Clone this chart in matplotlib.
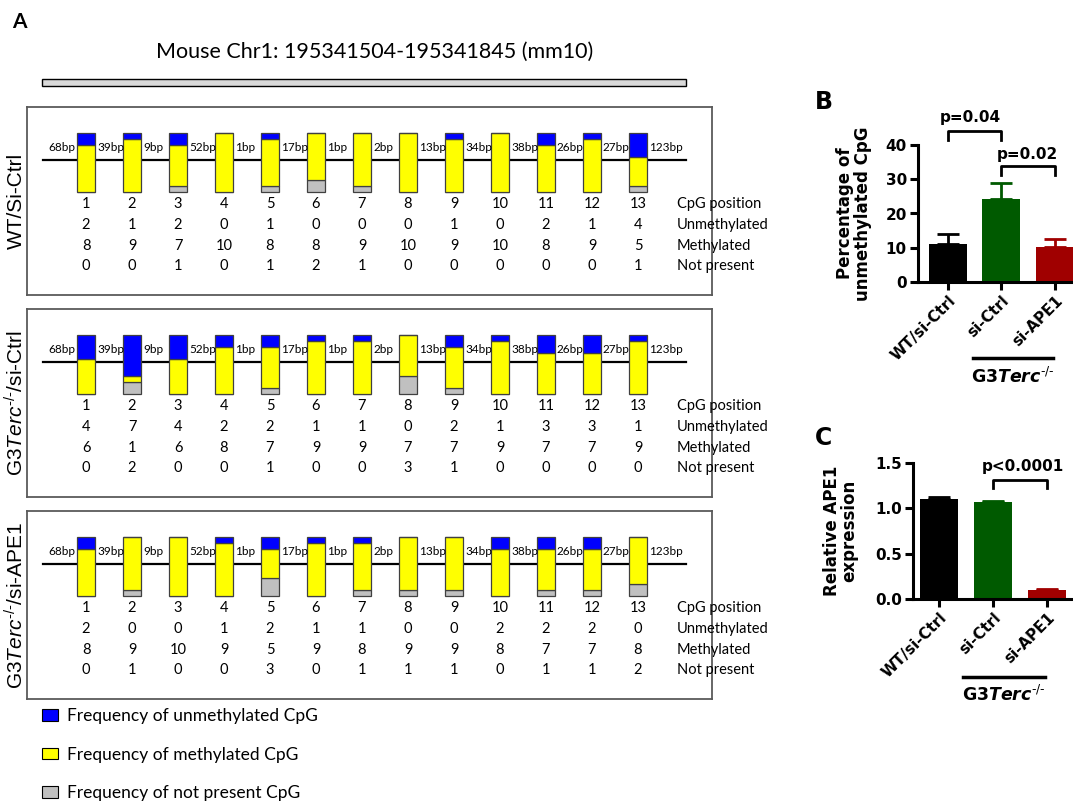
import numpy as np
import matplotlib.pyplot as plt
from matplotlib.patches import Patch, Rectangle

plt.rcParams['font.family'] = 'Liberation Sans'
plt.rcParams['mathtext.fontset'] = 'custom'
plt.rcParams['mathtext.rm'] = 'Liberation Sans'
plt.rcParams['mathtext.it'] = 'Liberation Sans:italic'
plt.rcParams['mathtext.bf'] = 'Liberation Sans:bold'
plt.rcParams['mathtext.bfit'] = 'Liberation Sans:italic:bold'

# ---- data, panel A (bisulfite sequencing, 10 clones per CpG)
cpg_pos = [1, 2, 3, 4, 5, 6, 7, 8, 9, 10, 11, 12, 13]
bp_gaps = [68, 39, 9, 52, 1, 17, 1, 2, 13, 34, 38, 26, 27, 123]
row_labels = ["CpG position", "Unmethylated", "Methylated", "Not present"]
sample_names = ["WT/Si-Ctrl", "G3$\\mathit{Terc}^{\u2010/\u2010}$/si-Ctrl",
                "G3$\\mathit{Terc}^{\u2010/\u2010}$/si-APE1"]

wt_unmeth = [2, 1, 2, 0, 1, 0, 0, 0, 1, 0, 2, 1, 4]
wt_meth = [8, 9, 7, 10, 8, 8, 9, 10, 9, 10, 8, 9, 5]
wt_np = [0, 0, 1, 0, 1, 2, 1, 0, 0, 0, 0, 0, 1]

ctrl_unmeth = [4, 7, 4, 2, 2, 1, 1, 0, 2, 1, 3, 3, 1]
ctrl_meth = [6, 1, 6, 8, 7, 9, 9, 7, 7, 9, 7, 7, 9]
ctrl_np = [0, 2, 0, 0, 1, 0, 0, 3, 1, 0, 0, 0, 0]

ape_unmeth = [2, 0, 0, 1, 2, 1, 1, 0, 0, 2, 2, 2, 0]
ape_meth = [8, 9, 10, 9, 5, 9, 8, 9, 9, 8, 7, 7, 8]
ape_np = [0, 1, 0, 0, 3, 0, 1, 1, 1, 0, 1, 1, 2]

legend_labels = ["Frequency of unmethylated CpG", "Frequency of methylated CpG",
                 "Frequency of not present CpG"]

# ---- data, panels B and C
groups = ["WT/si-Ctrl", "si-Ctrl", "si-APE1"]
pct_unmeth = [11.0, 24.2, 10.3]
pct_err = [3.0, 4.8, 2.4]
ape1_expr = [1.10, 1.07, 0.10]
ape1_err = [0.03, 0.01, 0.005]

W, H = 1073, 805
fig = plt.figure(figsize=(W / 100, H / 100), dpi=100)


def px_axes(left, top, right, bottom):
    return fig.add_axes([left / W, 1 - bottom / H, (right - left) / W, (bottom - top) / H])


blue, yellow, grey = '#0000ff', '#ffff00', '#c0c0c0'
fa = dict(family='Lato')
fb = dict(family='DejaVu Sans', fontweight='bold')

# ---- panel A
fig.text(12 / W, 1 - 22 / H, "A", fontsize=15, weight='bold', va='center', **fa)
fig.text(375 / W, 1 - 52 / H, "Mouse Chr1: 195341504-195341845 (mm10)", fontsize=15.5,
         ha='center', va='center', **fa)
fig.patches.append(Rectangle((42 / W, 1 - 86 / H), 644 / W, 7 / H, transform=fig.transFigure,
                             facecolor='#d9d9d9', edgecolor='black', lw=1))

sets = [(wt_unmeth, wt_meth, wt_np), (ctrl_unmeth, ctrl_meth, ctrl_np), (ape_unmeth, ape_meth, ape_np)]
row_y = [-2.0, -5.6, -9.15, -12.5]
x = np.array(cpg_pos)

for k, (unm, met, nps) in enumerate(sets):
    ax = px_axes(27, 107 + 202 * k, 712, 295 + 202 * k)
    ax.set_xlim(-0.283, 14.61)
    ax.set_ylim(-17.46, 14.4)
    ax.set_xticks([])
    ax.set_yticks([])
    for s in ax.spines.values():
        s.set_color('#5a5a5a')
        s.set_linewidth(1.3)
    ax.plot([0.065, 14.04], [5.4, 5.4], color='black', lw=1.6, zorder=1)
    ax.bar(x, nps, width=0.39, color=grey, edgecolor='#404040', lw=0.9, zorder=2)
    ax.bar(x, met, width=0.39, bottom=nps, color=yellow, edgecolor='#404040', lw=0.9, zorder=2)
    ax.bar(x, unm, width=0.39, bottom=np.add(nps, met), color=blue, edgecolor='#404040', lw=0.9, zorder=2)

    ax.text(x[0] - 0.24, 7.5, f"{bp_gaps[0]}bp", ha='right', va='center', fontsize=8.5, **fa)
    for i in range(len(x)):
        ax.text(x[i] + 0.24, 7.5, f"{bp_gaps[i + 1]}bp", ha='left', va='center', fontsize=8.5, **fa)

    for r, vals in enumerate([cpg_pos, unm, met, nps]):
        for i in range(len(x)):
            ax.text(x[i], row_y[r], str(vals[i]), ha='center', va='center', fontsize=10.5, **fa)
        ax.text(13.85, row_y[r], row_labels[r], ha='left', va='center', fontsize=10.5, **fa)

    fig.text(16 / W, 1 - (201 + 202 * k) / H, sample_names[k], rotation=90,
             ha='center', va='center', fontsize=15)

handles = [Patch(facecolor=c, edgecolor='black', lw=0.8) for c in (blue, yellow, grey)]
fig.legend(handles, legend_labels, loc='upper left', bbox_to_anchor=(42 / W, 1 - 708 / H),
           frameon=False, prop=dict(family='Lato', size=12.5), handlelength=0.9, handleheight=0.65,
           labelspacing=1.3, handletextpad=0.55, borderaxespad=0, borderpad=0)

# ---- panels B and C
bar_cols = ['#000000', '#005a00', '#a00000']


def style_bar_ax(ax):
    for s in ('top', 'right'):
        ax.spines[s].set_visible(False)
    for s in ('left', 'bottom'):
        ax.spines[s].set_linewidth(2.2)
    ax.tick_params(width=2.2, length=6, labelsize=11, pad=2)
    for lab in ax.get_yticklabels():
        lab.set_fontweight('bold')
        lab.set_family('DejaVu Sans')
    ax.set_xticks(range(3))
    ax.set_xticklabels(groups, rotation=45, ha='right', rotation_mode='anchor', fontsize=11, **fb)


def draw_bars(ax, vals, errs, width):
    xb = np.arange(3)
    ax.bar(xb, vals, width=width, color=bar_cols, zorder=2)
    for i in range(3):
        ax.errorbar(xb[i], vals[i], yerr=[[0], [errs[i]]], fmt='none', ecolor=bar_cols[i],
                    elinewidth=2, capsize=8, capthick=2, zorder=3)


def g3_label(ax, x0, x1, yl, yt):
    tr = ax.get_xaxis_transform()
    ax.plot([x0, x1], [yl, yl], color='black', lw=2.5, transform=tr, clip_on=False)
    ax.text((x0 + x1) / 2, yt, "G3$\\mathbfit{Terc}^{\u2010/\u2010}$", transform=tr, ha='center',
            va='center', fontsize=12.5, math_fontfamily='dejavusans', **fb)


fig.text(815 / W, 1 - 102 / H, "B", fontsize=17, va='center', **fb)
axB = px_axes(918, 145, 1073, 282)
draw_bars(axB, pct_unmeth, pct_err, 0.71)
axB.set_xlim(-0.56, 2.34)
axB.set_ylim(0, 40)
axB.set_yticks([0, 10, 20, 30, 40])
style_bar_ax(axB)
axB.set_ylabel("Percentage of\nunmethylated CpG", fontsize=12, linespacing=1.0, **fb)
axB.yaxis.set_label_coords(-0.30, 0.5)
axB.plot([0, 0, 1, 1], [41.5, 44.2, 44.2, 41.5], color='black', lw=2, clip_on=False)
axB.text(0.42, 47.9, "p=0.04", ha='center', va='center', fontsize=11, **fb)
axB.plot([1, 1, 2, 2], [31.2, 33.9, 33.9, 31.2], color='black', lw=2, clip_on=False)
axB.text(1.48, 37.1, "p=0.02", ha='center', va='center', fontsize=11, **fb)
g3_label(axB, 0.47, 1.96, -0.555, -0.69)

fig.text(815 / W, 1 - 438 / H, "C", fontsize=17, va='center', **fb)
axC = px_axes(913, 463, 1073, 599)
draw_bars(axC, ape1_expr, ape1_err, 0.7)
axC.set_xlim(-0.48, 2.48)
axC.set_ylim(0, 1.5)
axC.set_yticks([0.0, 0.5, 1.0, 1.5])
axC.set_yticklabels(["0.0", "0.5", "1.0", "1.5"])
style_bar_ax(axC)
axC.set_ylabel("Relative APE1\nexpression", fontsize=12, linespacing=1.0, **fb)
axC.yaxis.set_label_coords(-0.34, 0.5)
axC.plot([1, 1, 2, 2], [1.22, 1.31, 1.31, 1.22], color='black', lw=2, clip_on=False)
axC.text(1.56, 1.456, "p<0.0001", ha='center', va='center', fontsize=11, **fb)
g3_label(axC, 0.44, 1.96, -0.574, -0.706)

fig.savefig("out.png", dpi=100)
